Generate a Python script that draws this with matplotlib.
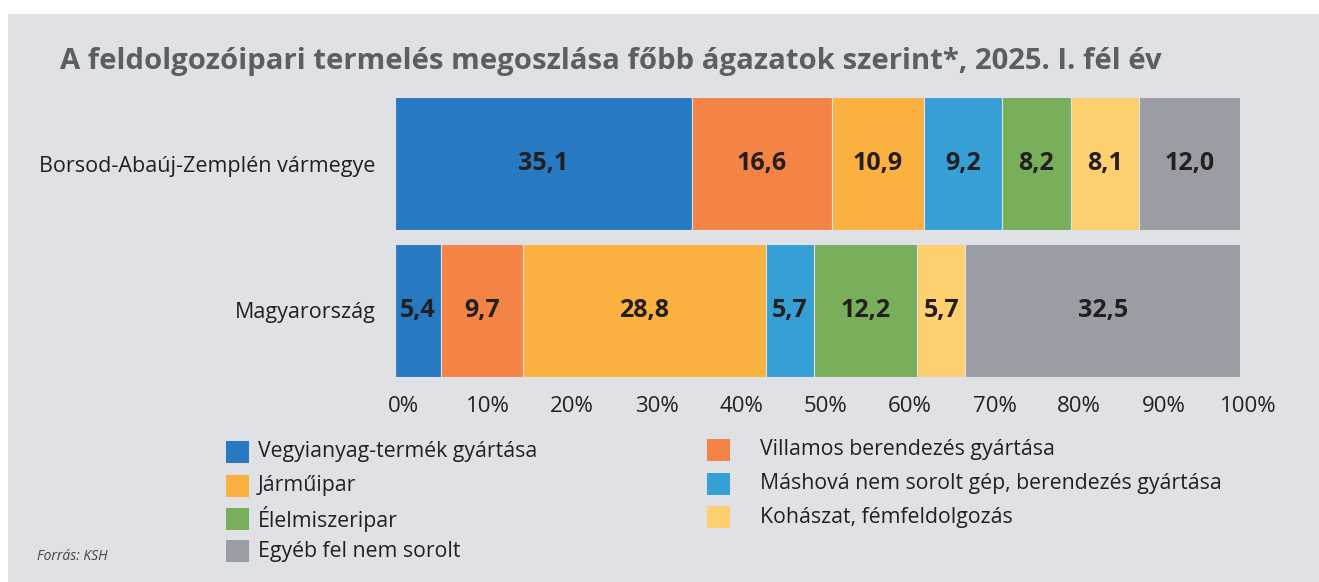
import matplotlib
matplotlib.use("Agg")
import matplotlib.pyplot as plt
from matplotlib.patches import Rectangle
import matplotlib.transforms as mtransforms

# ---- data ----
regions = ["Borsod-Abaúj-Zemplén vármegye", "Magyarország"]
sectors = ["Vegyianyag-termék gyártása", "Villamos berendezés gyártása", "Járműipar",
           "Máshová nem sorolt gép, berendezés gyártása", "Élelmiszeripar",
           "Kohászat, fémfeldolgozás", "Egyéb fel nem sorolt"]
borsod = [35.1, 16.6, 10.9, 9.2, 8.2, 8.1, 12.0]
magyar = [5.4, 9.7, 28.8, 5.7, 12.2, 5.7, 32.5]
tick_values = [0, 10, 20, 30, 40, 50, 60, 70, 80, 90, 100]
tick_labels = [f"{v}%" for v in tick_values]
title = "A feldolgozóipari termelés megoszlása főbb ágazatok szerint*, 2025. I. fél év"
source = "Forrás: KSH"

colors = ["#2779c2", "#f48346", "#fbb13f", "#369fd6", "#79ae5a", "#fdd06f", "#9a9da3"]
BG = "#e0e1e5"

W, H = 1319, 582
fig = plt.figure(figsize=(W / 100, H / 100), dpi=100, facecolor="white")

def fx(px):
    return px / W

def fy(py):
    return 1 - py / H

# gray panel
fig.patches.append(Rectangle((fx(8), 0), 1 - fx(8), fy(14), transform=fig.transFigure,
                             facecolor=BG, edgecolor="none", zorder=-10))

REG = ["Open Sans", "DejaVu Sans"]

# axes
left, right, top, bottom = 395, 1240, 97, 377
ax = fig.add_axes([fx(left), fy(bottom), fx(right) - fx(left), fy(top) - fy(bottom)])
ax.set_facecolor("none")
for s in ax.spines.values():
    s.set_visible(False)

h = 0.905
ypos = [0, 1]
data = list(zip(borsod, magyar))
lefts = [0.0, 0.0]
for i, sec in enumerate(sectors):
    vals = [data[i][0], data[i][1]]
    bars = ax.barh(ypos, vals, left=lefts, height=h, color=colors[i],
                   edgecolor=BG, linewidth=0.8, label=sec)
    ax.bar_label(bars, labels=[f"{v:.1f}".replace(".", ",") for v in vals],
                 label_type="center", fontsize=18, fontweight="bold",
                 color="#231f20", family=REG)
    lefts = [lefts[0] + vals[0], lefts[1] + vals[1]]

ax.set_xlim(0, 100)
ax.set_ylim(1 + h / 2, -h / 2)
ax.set_yticks(ypos)
ax.set_yticklabels(regions, fontsize=15.5, color="#231f20", family=REG)
ax.set_xticks(tick_values)
ax.set_xticklabels(tick_labels, fontsize=16, color="#231f20", family=REG)
ax.tick_params(axis="both", length=0)
ax.tick_params(axis="x", pad=14)
ax.tick_params(axis="y", pad=14)
offset = mtransforms.ScaledTranslation(8 / 100, 0, fig.dpi_scale_trans)
for lab in ax.get_xticklabels():
    lab.set_transform(lab.get_transform() + offset)

# title
t = fig.text(fx(60), fy(62), title, fontsize=21, fontweight="bold", color="#5b5e63",
             family=REG, ha="left", va="center")

# source
fig.text(fx(37), fy(557), source, fontsize=10, style="italic", color="#444444",
         family=REG, ha="left", va="center")

# legend (manual, two columns)
col1 = [0, 2, 4, 6]
col2 = [1, 3, 5]
rows_y = [452, 486, 519, 551]
def legend_item(idx, sq_x, txt_x, yc):
    fig.patches.append(Rectangle((fx(sq_x), fy(yc + 11)), fx(23), 22 / H,
                                 transform=fig.transFigure, facecolor=colors[idx],
                                 edgecolor="none"))
    fig.text(fx(txt_x), fy(yc), sectors[idx], fontsize=15.3, color="#231f20",
             family=REG, ha="left", va="center")
for r, idx in enumerate(col1):
    legend_item(idx, 226, 258, rows_y[r])
for r, idx in enumerate(col2):
    legend_item(idx, 707, 760, rows_y[r] - 2)

# fit title width
fig.canvas.draw()
bb = t.get_window_extent()
target = 1158 - 60
t.set_fontsize(t.get_fontsize() * target / bb.width)

fig.savefig("out.png", dpi=100, facecolor="white")
